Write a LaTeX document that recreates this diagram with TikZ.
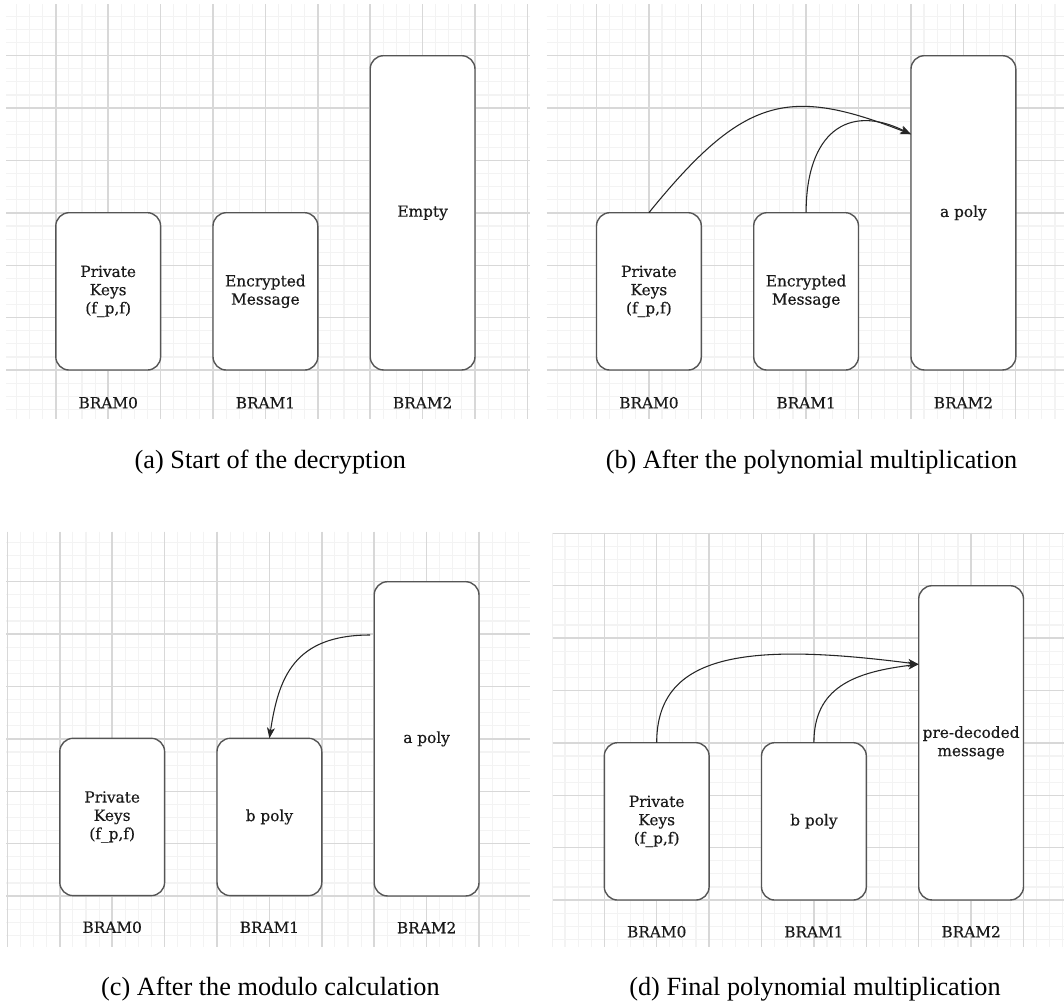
\documentclass[tikz,border=0pt]{standalone}
\usepackage{fontspec}
\setmainfont{Liberation Serif}
\newfontfamily\slabfont[FakeBold=0.35]{DejaVu Serif}
\usetikzlibrary{arrows.meta,calc}

\definecolor{minorgrid}{HTML}{F3F3F3}
\definecolor{majorgrid}{HTML}{D8D8D8}
\definecolor{boxline}{HTML}{555555}
\definecolor{inktext}{HTML}{1A1A1A}

\tikzset{
  minorline/.style={draw=minorgrid, line width=0.8pt},
  majorline/.style={draw=majorgrid, line width=1.1pt},
  bram/.style={draw=boxline, line width=1.05pt, rounded corners=10pt, fill=white,
    anchor=north west, inner sep=0pt, outer sep=0pt, minimum width=78.6pt,
    align=center, font=\slabfont\fontsize{11.5}{13.7}\selectfont, text=inktext},
  smallbram/.style={bram, minimum height=118pt},
  bigbram/.style={bram, minimum height=235.7pt},
  bramlabel/.style={font=\slabfont\fontsize{11.5}{13.7}\selectfont, text=inktext, inner sep=0pt},
  flow/.style={draw=black!85, line width=0.8pt, -{Stealth[length=8pt,width=6pt,inset=2.2pt]}},
  caption/.style={font=\fontsize{19.7}{23}\selectfont, anchor=base, inner sep=0pt},
}

% background grid of one panel: #1,#2 top-left, #3,#4 bottom-right, #5,#6 a major line crossing
\newcommand\gridpanel[6]{%
  \begin{scope}
    \clip (#1,#2) rectangle (#3,#4);
    \foreach \k in {-5,...,37} {
      \draw[minorline] ({#5+\k*13.1},#2) -- ({#5+\k*13.1},#4);
      \draw[minorline] (#1,{#6+\k*13.1}) -- (#3,{#6+\k*13.1});
    }
    \foreach \m in {-2,...,10} {
      \draw[majorline] ({#5+\m*52.4},#2) -- ({#5+\m*52.4},#4);
      \draw[majorline] (#1,{#6+\m*52.4}) -- (#3,{#6+\m*52.4});
    }
  \end{scope}}

\begin{document}
\begin{tikzpicture}[x=0.75pt,y=-0.75pt]
  \useasboundingbox (0,0) rectangle (1064,1003);
  \fill[white] (0,0) rectangle (1064,1003);

  % ---------- (a) start of the decryption ----------
  \gridpanel{6}{4}{530}{419.3}{55.8}{55.7}
  \node[smallbram] (a0) at (55.8,212.7) {Private\\Keys\\(f\_p,f)};
  \node[smallbram] (a1) at (213,212.7) {Encrypted\\Message};
  \node[bigbram]   (a2) at (370.2,55.7) {Empty};
  \node[bramlabel] (la0) at ($(a0.south)+(0,32.7)$) {BRAM0};
  \node[bramlabel] (la1) at ($(a1.south)+(0,32.7)$) {BRAM1};
  \node[bramlabel] (la2) at ($(a2.south)+(0,32.7)$) {BRAM2};
  \node[caption] (capa) at (270.4,468) {(a) Start of the decryption};

  % ---------- (b) after the polynomial multiplication ----------
  \gridpanel{546.8}{4}{1064}{419.3}{596.5}{55.7}
  \node[smallbram] (b0) at (596.5,212.7) {Private\\Keys\\(f\_p,f)};
  \node[smallbram] (b1) at (753.7,212.7) {Encrypted\\Message};
  \node[bigbram]   (b2) at (911,55.7) {a poly};
  \node[bramlabel] (lb0) at ($(b0.south)+(0,32.7)$) {BRAM0};
  \node[bramlabel] (lb1) at ($(b1.south)+(0,32.7)$) {BRAM1};
  \node[bramlabel] (lb2) at ($(b2.south)+(0,32.7)$) {BRAM2};
  \coordinate (bin) at ($(b2.north west)!0.25!(b2.south west)$);
  \draw[flow] (b0.north) .. controls +(95,-117) and +(-122.6,-48.1) .. (bin);
  \draw[flow] (b1.north) .. controls +(0,-80) and +(-63.2,-31.5) .. (bin);
  \node[caption] (capb) at (811.5,468) {(b) After the polynomial multiplication};

  % ---------- (c) after the modulo calculation ----------
  \gridpanel{6}{531.7}{530}{946.7}{59.8}{581.7}
  \node[smallbram] (c0) at (59.8,738.3) {Private\\Keys\\(f\_p,f)};
  \node[smallbram] (c1) at (217,738.3) {b poly};
  \node[bigbram]   (c2) at (374.2,581.7) {a poly};
  \node[bramlabel] (lc0) at ($(c0.south)+(0,31.6)$) {BRAM0};
  \node[bramlabel] (lc1) at ($(c1.south)+(0,31.6)$) {BRAM1};
  \node[bramlabel] (lc2) at ($(c2.south)+(0,31.6)$) {BRAM2};
  \coordinate (cout) at ($(c2.north west)+(-4,53.3)$);
  \draw[flow] (cout) .. controls +(-76,0) and +(9.1,-61) .. (c1.north);
  \node[caption] (capc) at (270.4,995) {(c) After the modulo calculation};

  % ---------- (d) final polynomial multiplication ----------
  \gridpanel{552.6}{532.7}{1064}{946.7}{604.3}{585.7}
  \node[smallbram] (d0) at (604.3,742.7) {Private\\Keys\\(f\_p,f)};
  \node[smallbram] (d1) at (761.5,742.7) {b poly};
  \node[bigbram]   (d2) at (918.7,585.7) {pre-decoded\\message};
  \node[bramlabel] (ld0) at ($(d0.south)+(0,31.7)$) {BRAM0};
  \node[bramlabel] (ld1) at ($(d1.south)+(0,31.7)$) {BRAM1};
  \node[bramlabel] (ld2) at ($(d2.south)+(0,31.7)$) {BRAM2};
  \coordinate (din) at ($(d2.north west)!0.25!(d2.south west)$);
  \draw[flow] (d0.north) .. controls +(0,-90) and +(-170.7,-22.1) .. (din);
  \draw[flow] (d1.north) .. controls +(0,-55) and +(-65.2,7.8) .. (din);
  \node[caption] (capd) at (815,995) {(d) Final polynomial multiplication};
\end{tikzpicture}
\end{document}
